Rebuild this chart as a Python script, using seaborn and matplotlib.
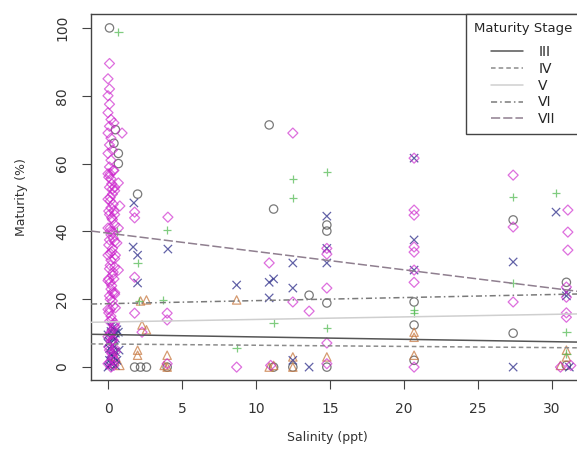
import numpy as np
import pandas as pd
import seaborn as sns
import matplotlib
matplotlib.use("Agg")
from matplotlib import pyplot as plt
from matplotlib.markers import MarkerStyle
from matplotlib.lines import Line2D

# data: salinity (ppt) and maturity (%) per stage
stages = ["III", "IV", "V", "VI", "VII"]

iii_sal = [0.1, 0.7, 0.7, 0.5, 0.4, 2.0, 10.9, 11.2, 13.6, 14.8, 14.8, 14.8, 20.7, 20.7,
           27.4, 27.4, 31.0, 1.8, 2.2, 2.6, 4.0, 11.2, 12.5, 14.8, 20.7, 31.0]
iii_mat = [100.0, 63.0, 60.0, 70.0, 66.0, 51.0, 71.4, 46.6, 21.2, 18.9, 41.9, 40.1, 19.2, 12.4,
           43.4, 10.0, 25.0, 0.0, 0.0, 0.0, 0.0, 0.0, 0.0, 0.0, 2.0, 0.5]

iv_sal = [2.6, 2.2, 8.7, 2.3, 2.6, 2.0, 2.0, 4.0, 4.0, 3.8, 10.9, 11.2, 12.5, 12.5, 14.8,
          20.7, 20.7, 20.7, 31.0, 31.0, 30.6, 0.3, 0.5, 0.8]
iv_mat = [19.8, 19.5, 19.8, 12.4, 11.0, 5.0, 3.5, 3.5, 0.0, 0.5, 0.0, 0.5, 3.0, 0.0, 3.0,
          10.3, 8.8, 3.5, 5.0, 3.0, 0.5, 1.0, 3.0, 0.5]

v_sal = [0.7, 4.0, 2.0, 3.7, 8.7, 12.5, 12.5, 14.8, 11.2, 14.8, 20.7, 20.7, 27.4, 27.4,
         30.3, 31.0, 31.0, 0.6, 2.1]
v_mat = [98.8, 40.4, 30.7, 19.8, 5.6, 55.5, 49.9, 57.5, 13.0, 11.5, 16.8, 16.0, 50.1, 24.8,
         51.3, 10.3, 4.0, 40.0, 19.5]

vi_sal = [1.75, 1.7, 4.05, 2.0, 2.0, 8.7, 0.75, 10.9, 11.2, 12.5, 10.9, 12.5, 14.8, 14.8,
          14.8, 13.6, 20.7, 20.7, 20.7, 27.4, 27.4, 30.3, 31.0, 31.0, 31.2, 12.5,
          0.0, 0.1, 0.2, 0.3, 0.4, 0.5, 0.6, 0.2, 0.4, 0.1, 0.3, 0.5, 0.7, 0.2, 0.0, 0.6,
          0.1, 0.3, 0.5, 0.2, 0.4, 0.0, 0.3, 0.1, 0.5, 0.2]
vi_mat = [48.4, 35.4, 34.8, 33.0, 24.8, 24.2, 5.0, 25.0, 26.0, 23.3, 20.4, 30.7, 44.5, 30.7,
          35.0, 0.0, 61.6, 37.5, 28.6, 31.0, 0.0, 45.7, 22.0, 21.0, 0.0, 2.0,
          0.0, 2.0, 4.0, 6.5, 8.0, 10.0, 11.0, 1.0, 3.0, 5.5, 9.0, 0.5, 10.3, 12.0, 7.0, 2.0,
          0.5, 1.5, 4.5, 3.5, 6.0, 9.5, 11.5, 7.5, 8.5, 10.5]

vii_sal = [0.1, 0.0, 0.1, 0.0, 0.1, 0.0, 0.2, 0.1, 0.0, 0.2, 0.1, 0.0, 0.2, 0.1, 0.0, 0.2,
           0.1, 0.3, 0.0, 0.2, 0.1, 0.3, 0.0, 0.2, 0.1, 0.3, 0.0, 0.2, 0.1, 0.3, 0.0, 0.2,
           0.1, 0.3, 0.0, 0.2, 0.1, 0.3, 0.0, 0.2, 0.1, 0.3, 0.0, 0.2,
           0.4, 0.3, 0.4, 0.3, 0.4, 0.3, 0.5, 0.4, 0.3, 0.5, 0.4, 0.3, 0.5, 0.4,
           0.35, 0.05, 0.25, 0.45, 0.15, 0.35, 0.05, 0.25, 0.45, 0.15, 0.35, 0.05, 0.25, 0.45,
           0.15, 0.35, 0.05, 0.25, 0.45, 0.15, 0.35, 0.05, 0.25, 0.45, 0.15, 0.35, 0.05, 0.25, 0.45,
           0.15, 0.45, 0.15, 0.45, 0.15, 0.45, 0.15, 0.45, 0.15, 0.45, 0.15, 0.45, 0.15, 0.45, 0.15,
           0.95, 0.7, 0.7, 0.6, 0.7, 0.8,
           1.8, 1.8, 4.05, 1.8, 1.8, 4.0, 4.0, 2.3, 8.7, 12.5, 10.9, 12.5, 14.8, 14.8, 13.6,
           14.8, 14.8, 20.7, 20.7, 20.7, 20.7, 20.7, 20.7, 20.7, 20.7, 27.4, 27.4, 27.4,
           31.1, 31.1, 31.1, 31.0, 31.0, 31.0, 31.0, 30.6, 31.3, 14.8, 11.0, 4.0]
vii_mat = [89.5, 85.0, 82.0, 80.0, 77.5, 75.0, 73.0, 71.0, 69.0, 67.5, 65.5, 63.0, 61.0, 59.0,
           57.0, 55.5, 53.0, 51.0, 49.5, 47.0, 45.0, 43.5, 41.0, 39.0, 37.5, 35.0, 33.0, 31.5,
           29.0, 27.0, 25.5, 23.0, 21.0, 19.5, 17.0, 15.0, 13.5, 11.0, 9.0, 7.5, 5.0, 3.0,
           1.0, 0.0,
           72.0, 64.0, 58.0, 52.5, 46.0, 40.0, 33.0, 26.0, 22.0, 17.5, 12.5, 8.0, 4.5, 0.5,
           58.0, 56.0, 54.0, 52.0, 50.0, 48.0, 46.0, 44.0, 42.0, 40.0, 38.0, 36.0, 34.0, 32.0,
           30.0, 28.0, 26.0, 24.0, 22.0, 20.0, 18.0, 16.0, 14.0, 12.0, 10.0, 8.0, 6.0, 4.0, 2.0,
           57.0, 53.0, 49.0, 45.0, 41.0, 37.0, 33.5, 29.5, 25.0, 21.5, 17.0, 13.0, 9.5, 5.5, 1.5,
           69.0, 54.3, 41.0, 36.6, 28.6, 47.5,
           45.7, 44.0, 44.2, 26.5, 15.9, 15.9, 13.9, 10.3, 0.0, 69.0, 30.7, 19.2, 33.3, 23.3, 16.5,
           7.1, 1.0, 61.6, 46.3, 44.8, 35.4, 33.9, 28.6, 25.0, 0.0, 56.6, 41.3, 19.2,
           46.3, 39.8, 34.5, 23.6, 20.6, 16.0, 14.7, 0.0, 0.5, 35.0, 0.5, 1.0]

# fitted lines per stage (intercept, slope)
intercepts = [9.6, 6.8, 13.3, 18.7, 39.5]
slopes = [-0.07, -0.035, 0.075, 0.09, -0.54]

point_colors = ["#4d4d4d", "#c87941", "#55bb55", "#2e2e8a", "#cc22cc"]
point_alpha = [0.75, 0.75, 0.75, 0.75, 0.65]
markers = ["o", "^", "+", "x", "D"]
line_colors = ["#555555", "#8c8c8c", "#cfcfcf", "#7a7a7a", "#8f7f8f"]
line_styles = ["-", (0, (3, 2)), "-", (0, (4, 2, 1, 2)), (0, (6, 2))]

sal = [iii_sal, iv_sal, v_sal, vi_sal, vii_sal]
mat = [iii_mat, iv_mat, v_mat, vi_mat, vii_mat]
df = pd.concat([pd.DataFrame({"Salinity": s, "Maturity": m, "Stage": st})
                for s, m, st in zip(sal, mat, stages)], ignore_index=True)

sns.set_style("white")
plt.rcParams["font.family"] = ["DejaVu Sans"]

fig = plt.figure(figsize=(5.77, 4.53), dpi=100)
ax = fig.add_axes([91 / 577, 73 / 453, 502 / 577, 366 / 453])

for st, c, a, mk in zip(stages, point_colors, point_alpha, markers):
    sub = df[df["Stage"] == st]
    sns.scatterplot(data=sub, x="Salinity", y="Maturity", ax=ax, color=c, alpha=a,
                    marker=MarkerStyle(mk, fillstyle="none"), s=36 if mk != "D" else 26,
                    linewidth=0.9, legend=False, zorder=2)

for b, m, c, ls in zip(intercepts, slopes, line_colors, line_styles):
    ax.axline((0, b), slope=m, color=c, linestyle=ls, linewidth=1.1, zorder=3)

ax.set_xlim(-1.15, 32.8)
ax.set_ylim(-3.8, 104.1)
ax.set_xticks([0, 5, 10, 15, 20, 25, 30])
ax.set_yticks([0, 20, 40, 60, 80, 100])
ax.tick_params(axis="both", direction="out", length=6.5, width=0.8, color="#444444",
               labelsize=10, pad=9, left=True, bottom=True, labelcolor="#333333")
for lab in ax.get_yticklabels():
    lab.set_rotation(90)
    lab.set_va("center")
for sp in ax.spines.values():
    sp.set_color("#444444")
    sp.set_linewidth(1.0)

ax.set_xlabel("Salinity (ppt)", fontsize=9, color="#333333")
ax.set_ylabel("Maturity (%)", fontsize=9, color="#333333")
ax.xaxis.set_label_coords(0.47, -0.14)
ax.yaxis.set_label_coords(-0.125, 0.5)

handles = [Line2D([0], [0], color=c, linestyle=ls, linewidth=1.1)
           for c, ls in zip(line_colors, line_styles)]
leg = ax.legend(handles, stages, title="Maturity Stage", loc="upper left",
                bbox_to_anchor=(0.747, 1.0), borderaxespad=0, fancybox=False,
                framealpha=1, edgecolor="#444444", fontsize=10, title_fontsize=9.5,
                handlelength=2.3, handletextpad=1.1, labelspacing=0.2, borderpad=0.6)
leg.get_frame().set_linewidth(1.0)
# extra gap between the title and the entries
leg._legend_box.sep = 7

fig.savefig("out.png", dpi=100)
